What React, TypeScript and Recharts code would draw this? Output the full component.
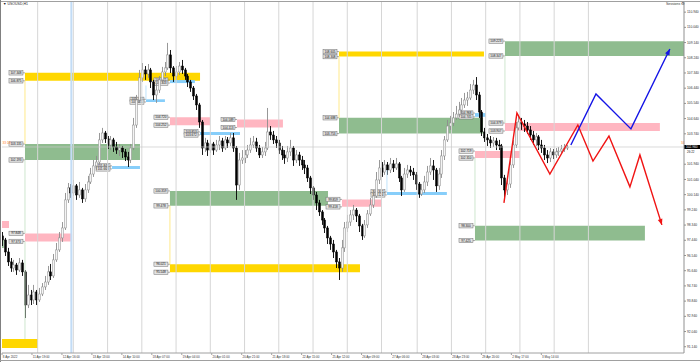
import React from 'react';
import {
  ComposedChart,
  Bar,
  Line,
  XAxis,
  YAxis,
  ReferenceArea,
  ReferenceLine,
} from 'recharts';

// H1 chart, candles grouped by 2 hours; x axis counts trading hours since 8 Apr
const HOURS_PER_CANDLE = 2;
const FIRST_OPEN = 97.7;

const closes = [
  97.46, 96.75, 96.16, 95.8, 95.98, 95.68, 96.1, 95.57, 93.61, 94.2,
  93.91, 94.38, 93.91, 94.26, 94.68, 94.97, 95.57, 95.33, 96.28, 96.87,
  97.58, 98.17, 99.83, 100.54, 100.24, 100.66, 100.12, 100.42, 99.89, 100.42,
  100.89, 101.36, 101.84, 102.07, 103.38, 103.79, 103.44, 103.08, 103.38, 102.96,
  102.78, 102.9, 102.67, 102.37, 102.19, 102.9, 104.26, 105.74, 107.05, 107.52,
  107.28, 107.52, 106.81, 106.04, 106.33, 106.93, 107.4, 107.64, 108.41, 107.64,
  107.16, 107.4, 107.75, 107.52, 107.16, 106.81, 106.45, 105.98, 105.45, 104.44,
  102.9, 103.2, 102.78, 103.14, 102.78, 103.08, 103.32, 102.9, 103.38, 103.2,
  103.5, 102.9, 100.71, 102.19, 102.31, 102.49, 102.78, 103.08, 103.26, 102.9,
  102.49, 102.67, 102.9, 103.85, 103.67, 103.38, 103.2, 102.78, 102.49, 102.31,
  102.67, 102.9, 102.19, 102.49, 102.19, 101.9, 101.72, 101.13, 100.54, 100.12,
  99.65, 99.12, 98.64, 98.17, 97.58, 97.22, 96.75, 96.16, 95.8, 96.99,
  98.17, 98.52, 98.94, 99.23, 98.88, 98.29, 97.7, 98.35, 99.0, 99.53,
  100.06, 101.01, 101.72, 101.48, 101.9, 101.6, 101.96, 101.72, 101.96, 101.13,
  100.42, 101.36, 101.6, 101.48, 101.31, 100.77, 100.18, 100.42, 100.89, 101.48,
  101.84, 101.6, 100.66, 101.36, 102.43, 103.38, 104.2, 104.38, 104.68, 104.91,
  105.15, 105.45, 105.74, 105.86, 106.33, 106.63, 106.04, 105.03, 103.85, 103.5,
  103.38, 103.2, 103.32, 103.08, 103.02, 101.13, 100.42, 100.77, 101.9, 103.08,
  104.09, 104.44, 104.32, 104.2, 103.97, 103.67, 103.38, 103.56, 103.08, 102.9,
  102.49, 102.31, 102.67, 102.49, 102.67, 102.72, 102.84, 102.9, 102.96,
];

const highs = [
  97.93, 97.58, 96.99, 96.39, 96.28, 96.1, 96.39, 96.28, 95.68, 94.8,
  94.5, 94.8, 94.5, 94.62, 94.91, 95.33, 95.92, 96.04, 96.63, 97.28,
  97.93, 98.52, 100.24, 100.83, 100.77, 101.01, 100.77, 100.89, 100.54, 100.77,
  101.25, 101.72, 102.19, 102.43, 103.79, 104.09, 103.91, 103.61, 103.61, 103.5,
  103.26, 103.14, 103.02, 102.84, 102.67, 103.14, 104.68, 106.04, 107.52, 107.93,
  107.75, 107.87, 107.64, 106.93, 106.69, 107.16, 107.7, 107.99, 109.12, 108.7,
  107.75, 107.75, 107.99, 108.11, 107.64, 107.28, 106.93, 106.57, 106.1, 105.57,
  104.56, 103.5, 103.38, 103.38, 103.26, 103.38, 103.61, 103.5, 103.61, 103.55,
  103.79, 103.79, 103.02, 102.61, 102.78, 102.78, 103.08, 103.5, 103.61, 103.5,
  103.08, 102.96, 103.26, 105.27, 104.2, 103.91, 103.61, 103.38, 103.02, 102.78,
  103.02, 103.38, 103.02, 102.78, 102.67, 102.43, 102.19, 101.9, 101.25, 100.65,
  100.3, 99.83, 99.23, 98.76, 98.29, 97.7, 97.46, 96.87, 96.39, 97.46,
  98.52, 98.94, 99.23, 99.53, 99.35, 99.0, 98.41, 98.64, 99.23, 99.95,
  100.42, 101.48, 102.19, 102.07, 102.19, 102.07, 102.31, 102.19, 102.31, 102.07,
  101.25, 101.72, 101.9, 101.84, 101.72, 101.48, 100.89, 100.77, 101.25, 101.84,
  102.31, 102.19, 101.72, 101.72, 102.78, 103.61, 104.56, 104.8, 105.03, 105.39,
  105.63, 105.86, 106.16, 106.22, 106.69, 106.93, 107.1, 106.22, 105.15, 104.09,
  103.73, 103.61, 103.55, 103.5, 103.38, 103.14, 101.31, 101.25, 102.31, 103.38,
  104.44, 104.86, 104.68, 104.56, 104.44, 104.2, 103.91, 103.79, 103.67, 103.38,
  103.08, 102.78, 102.9, 102.84, 102.9, 102.96, 103.08, 103.14, 103.08,
];

const lows = [
  97.1, 96.51, 95.92, 95.57, 95.57, 95.39, 95.57, 95.33, 92.84, 93.43,
  93.61, 93.67, 93.61, 93.79, 94.14, 94.5, 94.8, 95.09, 95.21, 96.16,
  96.75, 97.34, 98.05, 99.65, 99.95, 100.06, 99.83, 99.95, 99.65, 99.71,
  100.24, 100.77, 101.19, 101.6, 101.9, 103.2, 103.2, 102.84, 102.78, 102.67,
  102.55, 102.43, 102.31, 102.13, 101.78, 102.01, 102.78, 104.09, 105.57, 106.81,
  106.93, 107.05, 106.45, 105.74, 105.57, 106.16, 106.69, 107.16, 107.52, 107.34,
  106.81, 106.93, 107.22, 107.28, 106.93, 106.51, 106.22, 105.74, 105.15, 104.09,
  102.49, 102.67, 102.43, 102.61, 102.49, 102.67, 102.78, 102.67, 102.78, 102.9,
  103.02, 102.67, 99.83, 100.42, 101.96, 102.01, 102.31, 102.61, 102.9, 102.67,
  102.31, 102.31, 102.43, 102.78, 103.38, 103.14, 102.9, 102.55, 102.19, 101.96,
  102.07, 102.43, 101.84, 102.01, 101.84, 101.6, 101.36, 100.89, 100.18, 99.83,
  99.23, 98.88, 98.35, 97.87, 97.22, 96.87, 96.39, 95.8, 95.09, 95.57,
  96.75, 97.93, 98.29, 98.64, 98.52, 97.93, 97.46, 97.58, 98.17, 98.88,
  99.35, 99.95, 100.77, 101.19, 101.31, 101.31, 101.42, 101.48, 101.6, 100.89,
  100.06, 100.3, 101.13, 101.25, 101.01, 100.42, 99.95, 100.06, 100.24, 100.65,
  101.31, 101.01, 100.3, 100.42, 101.13, 102.19, 103.26, 103.97, 104.2, 104.56,
  104.74, 104.97, 105.27, 105.39, 105.74, 106.1, 105.74, 104.68, 103.61, 103.26,
  103.02, 102.9, 102.96, 102.78, 102.78, 100.71, 99.83, 100.12, 100.54, 101.72,
  102.9, 103.97, 103.97, 103.85, 103.73, 103.38, 103.08, 103.02, 102.78, 102.61,
  102.19, 102.01, 102.07, 102.25, 102.31, 102.43, 102.55, 102.67, 102.78,
];

const timeTicks = [0, 21, 42, 63, 84, 105, 126, 147, 168, 189, 210, 231, 252, 273, 294, 315, 336, 357, 378];
const timeLabels = [
  '8 Apr 2022', '11 Apr 19:00', '12 Apr 16:00', '13 Apr 13:00', '14 Apr 10:00',
  '18 Apr 07:00', '19 Apr 04:00', '20 Apr 01:00', '20 Apr 21:00', '21 Apr 18:00',
  '22 Apr 15:00', '25 Apr 12:00', '26 Apr 09:00', '27 Apr 06:00', '28 Apr 03:00',
  '28 Apr 23:00', '29 Apr 20:00', '2 May 17:00', '3 May 14:00',
];
const daySeparators = [25, 50, 74, 98, 122, 146, 170, 194, 218, 242, 266, 291, 315, 339, 363, 387, 411];
const markedHour = 48.6;

// the 102.840 label is hidden behind the bid box in the reference
const priceTicks = [
  110.94, 110.04, 109.14, 108.24, 107.34, 106.44, 105.54, 104.64, 103.74,
  101.94, 101.04, 100.14, 99.24, 98.34, 97.44, 96.54, 95.64, 94.74, 93.84,
  92.94, 92.04, 91.14,
];

// supply / demand boxes: hour range and price range
const zones = [
  { from: 16.1, to: 138.8, top: 107.348, bottom: 106.875, kind: 'major' },
  { from: 117.7, to: 135.2, top: 106.921, bottom: 106.743, kind: 'minor' },
  { from: 100.9, to: 114.2, top: 105.782, bottom: 105.621, kind: 'minor' },
  { from: 117.7, to: 145.8, top: 104.72, bottom: 104.252, kind: 'supply' },
  { from: 164.7, to: 196.9, top: 104.589, bottom: 104.113, kind: 'supply' },
  { from: 138.8, to: 166.8, top: 103.853, bottom: 103.672, kind: 'minor' },
  { from: 16.1, to: 96.7, top: 103.135, bottom: 102.193, kind: 'demand' },
  { from: 77.1, to: 96.7, top: 101.842, bottom: 101.663, kind: 'minor' },
  { from: 16.1, to: 49.1, top: 97.848, bottom: 97.373, kind: 'supply' },
  { from: 0, to: 4.9, top: 98.58, bottom: 98.17, kind: 'supply', tags: false },
  { from: 0, to: 1.2, top: 97.46, bottom: 96.99, kind: 'demand', tags: false },
  { from: 0, to: 25.2, top: 91.6, bottom: 91.07, kind: 'major', tags: false },
  { from: 117.7, to: 228.5, top: 100.359, bottom: 99.478, kind: 'demand' },
  { from: 117.7, to: 250.9, top: 96.021, bottom: 95.548, kind: 'major' },
  { from: 238.3, to: 266.3, top: 99.859, bottom: 99.418, kind: 'supply' },
  { from: 269.8, to: 311.8, top: 100.302, bottom: 100.124, kind: 'minor' },
  { from: 236.2, to: 337.1, top: 104.688, bottom: 103.753, kind: 'demand' },
  { from: 236.2, to: 337.8, top: 108.605, bottom: 108.308, kind: 'major' },
  { from: 331.5, to: 339.2, top: 104.968, bottom: 104.745, kind: 'minor' },
  { from: 331.5, to: 363.0, top: 102.719, bottom: 102.31, kind: 'supply' },
  { from: 352.5, to: 478, top: 109.223, bottom: 108.347, kind: 'demand' },
  { from: 352.5, to: 461.1, top: 104.379, bottom: 103.907, kind: 'supply' },
  { from: 331.5, to: 450.6, top: 98.3, bottom: 97.425, kind: 'demand' },
];

// faint vertical connectors below the boxes
const links = [
  { at: 16.1, from: 106.875, to: 103.135, kind: 'major' },
  { at: 16.1, from: 102.193, to: 97.848, kind: 'demand' },
  { at: 16.1, from: 97.373, to: 91.6, kind: 'demand' },
  { at: 117.7, from: 99.478, to: 96.021, kind: 'major' },
  { at: 236.2, from: 108.308, to: 104.688, kind: 'major' },
  { at: 352.5, from: 108.347, to: 104.379, kind: 'demand' },
  { at: 331.5, from: 102.31, to: 98.3, kind: 'demand' },
  { at: 100.9, from: 106.6, to: 105.782, kind: 'minor' },
  { at: 269.8, from: 101.6, to: 100.302, kind: 'minor' },
];

const blueHours = [398.7, 416.3, 440.8, 468.1];
const bluePrices = [103.08, 106.1, 104.03, 108.76];
const redHours = [351.8, 360.9, 384.0, 403.6, 414.2, 425.4, 440.1, 447.1, 462.5];
const redPrices = [99.65, 104.97, 101.36, 104.26, 102.13, 103.61, 100.6, 102.49, 98.35];

const ZONE_FILL: Record<string, string> = {
  major: '#ffd700',
  demand: '#8fbc8f',
  supply: '#ffb6c1',
  minor: '#87cefa',
};
const LINK_STROKE: Record<string, string> = {
  major: '#ffe98a',
  demand: '#cfe6cf',
  supply: '#ffd6dc',
  minor: '#bfe3fb',
};

const W = 700;
const H = 362;
const MARGIN = { top: 2, right: 0, bottom: 0, left: 2 };
const Y_AXIS_W = 16;
const X_AXIS_H = 9;
const X_DOMAIN: [number, number] = [0, 478];
const Y_DOMAIN: [number, number] = [90.77, 111.54];
const PLOT_W = W - MARGIN.left - MARGIN.right - Y_AXIS_W;
const PLOT_H = H - MARGIN.top - MARGIN.bottom - X_AXIS_H;
const FONT = 'Liberation Sans, Arial, sans-serif';

const candles = closes.map((close, i) => ({
  hour: i * HOURS_PER_CANDLE,
  open: i === 0 ? FIRST_OPEN : closes[i - 1],
  high: highs[i],
  low: lows[i],
  close,
}));
const lastClose = closes[closes.length - 1];

const bluePath = blueHours.map((hour, i) => ({ hour, price: bluePrices[i] }));
const redPath = redHours.map((hour, i) => ({ hour, price: redPrices[i] }));

function Candle(props: any) {
  const { x, y, width, height, payload } = props;
  if (!payload) return null;
  const { open, close, high, low } = payload;
  const top = Math.min(y, y + height);
  const h = Math.abs(height);
  const k = h / (high - low || 1);
  const yO = top + (high - open) * k;
  const yC = top + (high - close) * k;
  const cx = Math.round(x + width / 2) + 0.5;
  const bull = close >= open;
  const stroke = bull ? '#8c8c8c' : '#000';
  const bodyTop = Math.min(yO, yC);
  const bodyH = Math.max(0.8, Math.abs(yC - yO));
  return (
    <g>
      <line x1={cx} x2={cx} y1={top} y2={top + h} stroke={stroke} strokeWidth={0.9} />
      <rect
        x={cx - 1}
        y={bodyTop}
        width={2}
        height={bodyH}
        fill={bull ? '#f4f4f4' : '#000'}
        stroke={stroke}
        strokeWidth={0.5}
      />
    </g>
  );
}

function ZoneTags({ viewBox, top, bottom }: any) {
  if (!viewBox) return null;
  const { x, y, height } = viewBox;
  const rows = [
    { v: top, y },
    { v: bottom, y: y + height },
  ];
  return (
    <g>
      {rows.map((r, k) => (
        <g key={k}>
          <line x1={x - 2} x2={x} y1={r.y} y2={r.y} stroke="#555" strokeWidth={0.5} />
          <rect x={x - 16} y={r.y - 2.2} width={14} height={4.4} fill="#e2e2e2" stroke="#707070" strokeWidth={0.5} />
          <text x={x - 9} y={r.y + 1.1} textAnchor="middle" fontSize={3.1} fontFamily={FONT} fill="#111">
            {r.v.toFixed(3)}
          </text>
        </g>
      ))}
    </g>
  );
}

function BidTag({ viewBox, value }: any) {
  if (!viewBox) return null;
  const { x, y, width } = viewBox;
  const right = x + width;
  return (
    <g fontFamily={FONT}>
      <rect x={right} y={y - 2} width={16} height={4} fill="#000" />
      <text x={right + 2} y={y + 1.1} fontSize={3.2} fill="#fff">{value.toFixed(3)}</text>
      <text x={right - 3} y={y - 3.2} fontSize={3.2} fill="#ff7f27">34</text>
      <text x={right + 3} y={y + 5.6} fontSize={3} fill="#222">26:22</text>
      <text x={x + 0.5} y={y - 2.5} fontSize={3.2} fill="#ff7f27">33:18</text>
    </g>
  );
}

function PriceTick({ x, y, payload }: any) {
  return (
    <text x={x} y={y + 1.1} fontSize={3.3} fontFamily={FONT} fill="#333">
      {Number(payload.value).toFixed(3)}
    </text>
  );
}

function TimeTick({ x, y, payload }: any) {
  const i = timeTicks.indexOf(payload.value);
  return (
    <text x={x + 0.8} y={y + 2.6} fontSize={3} fontFamily={FONT} fill="#333">
      {timeLabels[i]}
    </text>
  );
}

function arrowDot(series: { hour: number; price: number }[], color: string) {
  return (p: any) => {
    const n = series.length;
    if (p.index !== n - 1) return <g key={`d-${p.index}`} />;
    const a = series[n - 2];
    const b = series[n - 1];
    const dx = ((b.hour - a.hour) * PLOT_W) / (X_DOMAIN[1] - X_DOMAIN[0]);
    const dy = (-(b.price - a.price) * PLOT_H) / (Y_DOMAIN[1] - Y_DOMAIN[0]);
    const len = Math.hypot(dx, dy) || 1;
    const ux = dx / len;
    const uy = dy / len;
    const L = 6;
    const hw = 2.4;
    const bx = p.cx - ux * L;
    const by = p.cy - uy * L;
    const pts = `${p.cx},${p.cy} ${bx - uy * hw},${by + ux * hw} ${bx + uy * hw},${by - ux * hw}`;
    return <polygon key="arrow" points={pts} fill={color} />;
  };
}

export default function App() {
  return (
    <div
      style={{
        position: 'absolute',
        left: 0,
        top: 0,
        width: W,
        height: H,
        background: '#fff',
        overflow: 'hidden',
        fontFamily: FONT,
      }}
    >
      <ComposedChart width={W} height={H} data={candles} margin={MARGIN}>
        <XAxis
          type="number"
          dataKey="hour"
          domain={X_DOMAIN}
          allowDataOverflow
          ticks={timeTicks}
          interval={0}
          height={X_AXIS_H}
          tickSize={2}
          tickMargin={0}
          axisLine={{ stroke: '#a0a0a0' }}
          tickLine={{ stroke: '#a0a0a0' }}
          tick={<TimeTick />}
        />
        <YAxis
          type="number"
          orientation="right"
          width={Y_AXIS_W}
          domain={Y_DOMAIN}
          allowDataOverflow
          ticks={priceTicks}
          interval={0}
          tickSize={2}
          tickMargin={1}
          axisLine={{ stroke: '#909090' }}
          tickLine={{ stroke: '#909090' }}
          tick={<PriceTick />}
        />
        {daySeparators.map((h) => (
          <ReferenceLine key={`sep-${h}`} x={h} stroke="#d6d6d6" strokeWidth={1} />
        ))}
        <ReferenceLine x={markedHour} stroke="#c2dcf6" strokeWidth={2} />
        {links.map((l, i) => (
          <ReferenceLine
            key={`link-${i}`}
            segment={[
              { x: l.at, y: l.from },
              { x: l.at, y: l.to },
            ]}
            stroke={LINK_STROKE[l.kind]}
            strokeWidth={1}
          />
        ))}
        {zones.map((z, i) => (
          <ReferenceArea
            key={`zone-${i}`}
            x1={z.from}
            x2={z.to}
            y1={z.bottom}
            y2={z.top}
            fill={ZONE_FILL[z.kind]}
            fillOpacity={1}
            stroke="none"
            label={
              z.tags === false
                ? undefined
                : (p: any) => <ZoneTags viewBox={p.viewBox} top={z.top} bottom={z.bottom} />
            }
          />
        ))}
        <ReferenceLine
          y={lastClose}
          stroke="#c8c8c8"
          strokeWidth={0.7}
          label={(p: any) => <BidTag viewBox={p.viewBox} value={lastClose} />}
        />
        <Bar
          dataKey={(d: any) => [d.low, d.high]}
          barSize={2}
          shape={<Candle />}
          isAnimationActive={false}
        />
        <Line
          data={redPath}
          dataKey="price"
          type="linear"
          stroke="#f01414"
          strokeWidth={1.4}
          dot={arrowDot(redPath, '#f01414')}
          activeDot={false}
          isAnimationActive={false}
        />
        <Line
          data={bluePath}
          dataKey="price"
          type="linear"
          stroke="#1414e6"
          strokeWidth={1.4}
          dot={arrowDot(bluePath, '#1414e6')}
          activeDot={false}
          isAnimationActive={false}
        />
      </ComposedChart>
      <div style={{ position: 'absolute', left: 0, top: 1, width: W, height: 1, background: '#a0a0a0' }} />
      <div style={{ position: 'absolute', left: 0, top: 0, width: 1, height: H, background: '#808080' }} />
      <div style={{ position: 'absolute', left: 0, top: 360, width: W, height: 1, background: '#a0a0a0' }} />
      <div style={{ position: 'absolute', left: 3, top: 2, fontSize: 3.5, color: '#222', whiteSpace: 'nowrap' }}>
        ▼ USOUSD,H1
      </div>
      <div style={{ position: 'absolute', left: 666, top: 2, fontSize: 3.5, color: '#333', whiteSpace: 'nowrap' }}>
        Sessions ⚙
      </div>
    </div>
  );
}
